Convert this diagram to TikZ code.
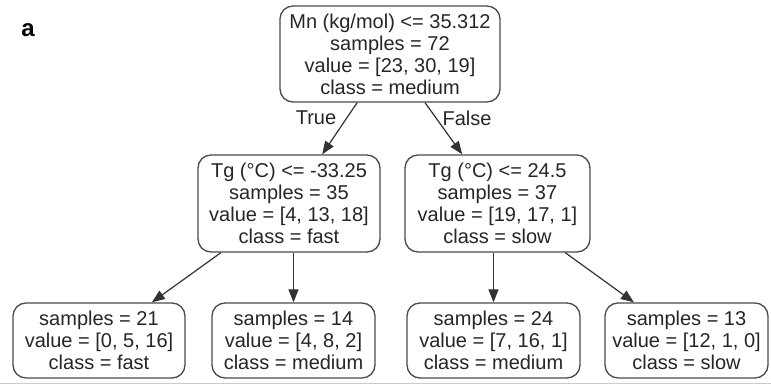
\documentclass[tikz,border=0pt]{standalone}
\usepackage{fontspec}
\setmainfont{Liberation Sans}
\usetikzlibrary{arrows.meta}
\definecolor{edge}{HTML}{333333}
\definecolor{frame}{HTML}{4A4A4A}
\tikzset{
  treebox/.style={draw=frame, line width=1.3pt, rounded corners=13pt, align=center,
    inner sep=0pt, font=\fontsize{20}{22}\selectfont, text=black!85},
  treeedge/.style={draw=edge, line width=1.2pt, -{Triangle[length=13pt,width=10pt]}},
  edgelabel/.style={font=\fontsize{20}{22}\selectfont, text=black!85}
}
\begin{document}
\begin{tikzpicture}[x=1pt,y=-1pt]
\useasboundingbox (0,0) rectangle (771,385);
\fill[white] (0,0) rectangle (771,385);
\draw[black!20, line width=1pt] (0,383) -- (771,383);
\node[font=\fontsize{24}{26}\selectfont\bfseries] (lbl) at (28,30) {a};
\node[treebox, minimum width=220pt, minimum height=96pt] (root) at (390,54)
  {Mn (kg/mol) <= 35.312\\samples = 72\\value = [23, 30, 19]\\class = medium};
\node[treebox, minimum width=182pt, minimum height=97pt] (l) at (289,203.5)
  {Tg (°C) <= -33.25\\samples = 35\\value = [4, 13, 18]\\class = fast};
\node[treebox, minimum width=185pt, minimum height=97pt] (r) at (497.5,203.5)
  {Tg (°C) <= 24.5\\samples = 37\\value = [19, 17, 1]\\class = slow};
\node[treebox, minimum width=172pt, minimum height=75pt] (ll) at (99,340.5)
  {samples = 21\\value = [0, 5, 16]\\class = fast};
\node[treebox, minimum width=163pt, minimum height=75pt] (lr) at (293.5,340.5)
  {samples = 14\\value = [4, 8, 2]\\class = medium};
\node[treebox, minimum width=173pt, minimum height=75pt] (rl) at (493.5,340.5)
  {samples = 24\\value = [7, 16, 1]\\class = medium};
\node[treebox, minimum width=163pt, minimum height=75pt] (rr) at (686.5,340.5)
  {samples = 13\\value = [12, 1, 0]\\class = slow};
\draw[treeedge] (root) -- (l);
\draw[treeedge] (root) -- (r);
\draw[treeedge] (l) -- (ll);
\draw[treeedge] (l.south -| lr) -- (lr);
\draw[treeedge] (r.south -| rl) -- (rl);
\draw[treeedge] (r) -- (rr);
\node[edgelabel] (tlab) at (316,118) {True};
\node[edgelabel] (flab) at (467,118) {False};
\end{tikzpicture}
\end{document}
